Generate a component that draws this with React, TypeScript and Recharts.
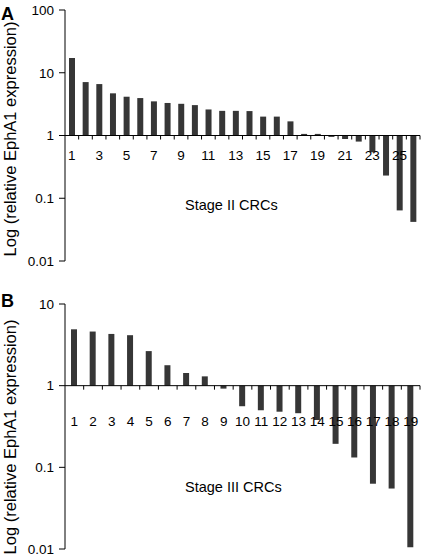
import { BarChart, Bar, XAxis, YAxis, ReferenceLine } from 'recharts'

// Stage II CRCs (panel A)
const stage2Labels = ['1', '2', '3', '4', '5', '6', '7', '8', '9', '10', '11', '12', '13', '14', '15', '16', '17', '18', '19', '20', '21', '22', '23', '24', '25', '26']
const stage2Values = [17.2, 7.1, 6.6, 4.7, 4.15, 3.95, 3.5, 3.3, 3.2, 3.05, 2.6, 2.47, 2.47, 2.45, 2.0, 2.0, 1.68, 1.06, 1.06, 0.95, 0.88, 0.8, 0.54, 0.23, 0.064, 0.042]
const stage2Ticks = [0.01, 0.1, 1, 10, 100]

// Stage III CRCs (panel B)
const stage3Labels = ['1', '2', '3', '4', '5', '6', '7', '8', '9', '10', '11', '12', '13', '14', '15', '16', '17', '18', '19']
const stage3Values = [4.9, 4.6, 4.3, 4.15, 2.65, 1.78, 1.43, 1.3, 0.92, 0.56, 0.5, 0.48, 0.46, 0.38, 0.194, 0.132, 0.063, 0.055, 0.0105]
const stage3Ticks = [0.01, 0.1, 1, 10]

const WIDTH = 422
const Y_AXIS_W = 65
const X_AXIS_H = 1
const BAR_COLOR = '#363636'

function CategoryTick(props: any) {
  const { x, y, payload, index, band, rise, dy, every } = props
  const base = y - rise
  return (
    <g>
      <line x1={x + band / 2} x2={x + band / 2} y1={base} y2={base + 4} stroke="#000" />
      {index % every === 0 && (
        <text x={x} y={base + dy} textAnchor="middle" fontSize={13.5} fill="#000">
          {payload.value}
        </text>
      )}
    </g>
  )
}

interface PanelProps {
  labels: string[]
  values: number[]
  ticks: number[]
  height: number
  margin: { top: number; right: number; bottom: number; left: number }
  every: number
  dy: number
}

function Panel({ labels, values, ticks, height, margin, every, dy }: PanelProps) {
  const data = labels.map((name, i) => ({
    name,
    value: values[i],
    range: values[i] >= 1 ? [1, values[i]] : [values[i], 1],
  }))
  const min = ticks[0]
  const max = ticks[ticks.length - 1]
  const plotH = height - margin.top - margin.bottom - X_AXIS_H
  const plotW = WIDTH - margin.left - margin.right - Y_AXIS_W
  // distance from the plot bottom up to the value 1 line
  const rise = (plotH * (0 - Math.log10(min))) / (Math.log10(max) - Math.log10(min))
  const band = plotW / labels.length

  return (
    <BarChart width={WIDTH} height={height} data={data} margin={margin}>
      <XAxis
        dataKey="name"
        height={X_AXIS_H}
        interval={0}
        axisLine={false}
        tickLine={false}
        tickSize={0}
        tickMargin={0}
        tick={(p: any) => <CategoryTick {...p} band={band} rise={rise} dy={dy} every={every} />}
      />
      <YAxis
        type="number"
        scale="log"
        domain={[min, max]}
        ticks={ticks}
        allowDataOverflow
        interval={0}
        width={Y_AXIS_W}
        tickSize={6}
        tickMargin={5}
        tick={{ fontSize: 13.5, fill: '#000' }}
        tickLine={{ stroke: '#000' }}
        axisLine={{ stroke: '#000' }}
        tickFormatter={(v: number) => String(v)}
      />
      <Bar dataKey="range" fill={BAR_COLOR} barSize={6} isAnimationActive={false} />
      <ReferenceLine y={1} stroke="#000" strokeWidth={1} />
    </BarChart>
  )
}

export default function App() {
  return (
    <div
      style={{
        position: 'absolute',
        left: 0,
        top: 0,
        width: WIDTH,
        height: 560,
        background: '#fff',
        fontFamily: '"Liberation Sans", Arial, sans-serif',
      }}
    >
      <div style={{ position: 'absolute', left: 0, top: 0 }}>
        <Panel
          labels={stage2Labels}
          values={stage2Values}
          ticks={stage2Ticks}
          height={275}
          margin={{ top: 10, right: 2, bottom: 13, left: 0 }}
          every={2}
          dy={24}
        />
      </div>
      <div style={{ position: 'absolute', left: 0, top: 280 }}>
        <Panel
          labels={stage3Labels}
          values={stage3Values}
          ticks={stage3Ticks}
          height={280}
          margin={{ top: 24, right: 2, bottom: 10, left: 0 }}
          every={1}
          dy={40}
        />
      </div>
      <svg
        width={WIDTH}
        height={560}
        style={{ position: 'absolute', left: 0, top: 0, pointerEvents: 'none' }}
      >
        <text x={1} y={20} fontSize={18} fontWeight="bold" fill="#000">A</text>
        <text x={1} y={307} fontSize={18} fontWeight="bold" fill="#000">B</text>
        <text x={185} y={210} fontSize={14.5} fill="#000">Stage II CRCs</text>
        <text x={185} y={492} fontSize={14.5} fill="#000">Stage III CRCs</text>
        <text
          x={9.5}
          y={139}
          fontSize={16.5}
          fill="#000"
          textAnchor="middle"
          dominantBaseline="central"
          transform="rotate(-90, 9.5, 139)"
        >
          Log (relative EphA1 expression)
        </text>
        <text
          x={9.5}
          y={437}
          fontSize={16.5}
          fill="#000"
          textAnchor="middle"
          dominantBaseline="central"
          transform="rotate(-90, 9.5, 437)"
        >
          Log (relative EphA1 expression)
        </text>
      </svg>
    </div>
  )
}
